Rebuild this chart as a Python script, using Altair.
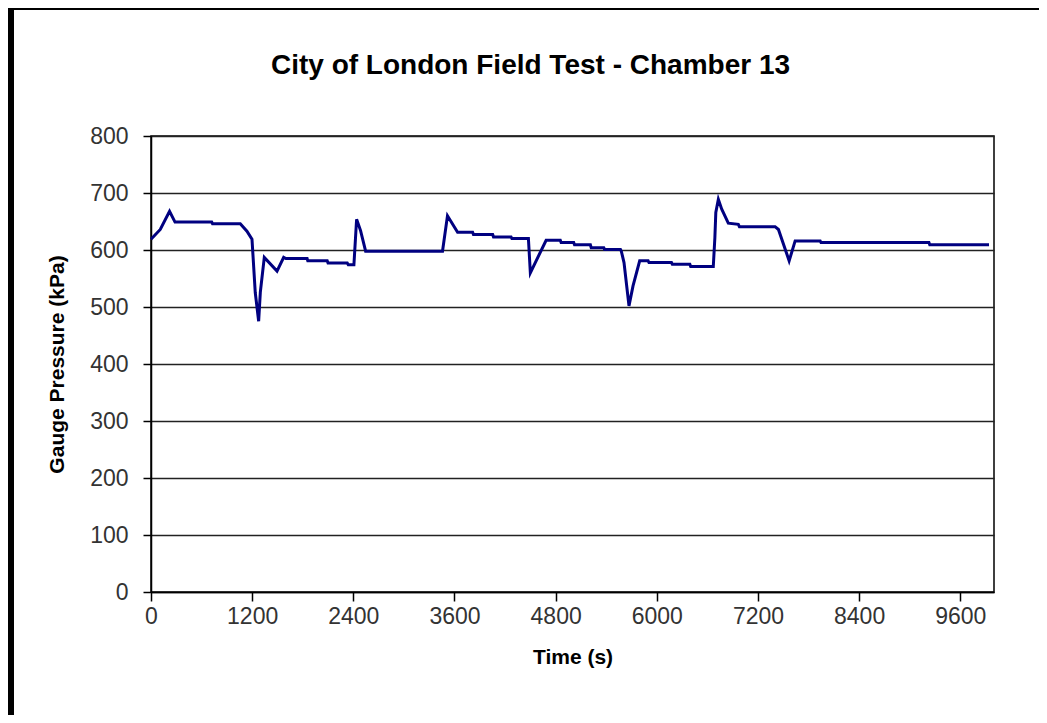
import altair as alt
import pandas as pd

time_s = [0, 110, 220, 285, 720, 730, 1059, 1138, 1198, 1237, 1277, 1297, 1344, 1495,
          1574, 1600, 1852, 1860, 2090, 2100, 2328, 2340, 2407, 2439, 2486, 2546, 3458,
          3517, 3637, 3815, 3825, 4053, 4063, 4271, 4281, 4477, 4500, 4687, 4855, 4865,
          5014, 5024, 5212, 5222, 5371, 5381, 5569, 5579, 5611, 5670, 5718, 5797, 5897,
          5907, 6174, 6184, 6392, 6402, 6670, 6689, 6700, 6730, 6769, 6848, 6967, 6980,
          7403, 7443, 7570, 7641, 7938, 7948, 9228, 9238, 9941]
pressure_kpa = [619, 636, 668, 649, 649, 646, 646, 633, 619, 525, 475, 526, 587, 563,
                587, 585, 585, 581, 581, 577, 577, 574, 574, 654, 634, 598, 598,
                660, 631, 631, 627, 627, 623, 623, 620, 620, 560, 617, 617, 613,
                613, 609, 609, 604, 604, 601, 601, 598, 578, 502, 537, 581, 581,
                578, 578, 575, 575, 571, 571, 622, 666, 689, 672, 647, 645, 641,
                641, 636, 581, 616, 616, 613, 613, 609, 609]
x_ticks = [0, 1200, 2400, 3600, 4800, 6000, 7200, 8400, 9600]
y_ticks = [0, 100, 200, 300, 400, 500, 600, 700, 800]

df = pd.DataFrame({"t": time_s, "p": pressure_kpa})

FONT = "Liberation Sans"
W, H = 843, 456
PL, PT = 143, 128
TOTAL_W, TOTAL_H = 1031, 707

line = alt.Chart(df).mark_line(color="#000080", strokeWidth=3).encode(
    x=alt.X("t:Q", title="Time (s)",
            scale=alt.Scale(domain=[0, 10000], nice=False, zero=False),
            axis=alt.Axis(values=x_ticks, format="d", grid=False, tickSize=9,
                          tickColor="black", tickWidth=1.5, domainColor="black",
                          domainWidth=1.5, labelFont=FONT, labelFontSize=23,
                          labelColor="#333333", labelPadding=4, labelFlush=False,
                          titleFont=FONT, titleFontSize=21, titleFontWeight="bold",
                          titleColor="black", titlePadding=18)),
    y=alt.Y("p:Q", title="Gauge Pressure (kPa)",
            scale=alt.Scale(domain=[0, 800], nice=False),
            axis=alt.Axis(values=y_ticks, format="d", grid=True, gridColor="#222222",
                          gridWidth=1.5, tickSize=8, tickColor="black", tickWidth=1.5,
                          domainColor="black", domainWidth=1.5,
                          labelFont=FONT, labelFontSize=23, labelColor="#333333",
                          labelPadding=15, labelFlush=False,
                          titleFont=FONT, titleFontSize=21, titleFontWeight="bold",
                          titleColor="black", titlePadding=22)),
)

frame_left = alt.Chart(df).mark_rule(color="black", strokeWidth=6).encode(
    x=alt.value(-PL + 3), y=alt.value(-PT), y2=alt.value(TOTAL_H - PT))
frame_top = alt.Chart(df).mark_rule(color="black", strokeWidth=2).encode(
    y=alt.value(-PT + 1), x=alt.value(-PL), x2=alt.value(TOTAL_W - PL))

chart = alt.layer(line, frame_left, frame_top).properties(
    width=W, height=H,
    title=alt.TitleParams("City of London Field Test - Chamber 13", font=FONT,
                          fontSize=28, fontWeight="bold", color="black",
                          anchor="middle", frame="group", dx=-42,
                          baseline="alphabetic", offset=-97),
    autosize=alt.AutoSizeParams(type="none"),
    padding={"left": PL, "top": PT, "right": TOTAL_W - PL - W, "bottom": TOTAL_H - PT - H},
    background="white",
).configure_view(stroke="black", strokeWidth=1.5)

chart.save("out.html", embed_options={"renderer": "svg", "actions": False})
